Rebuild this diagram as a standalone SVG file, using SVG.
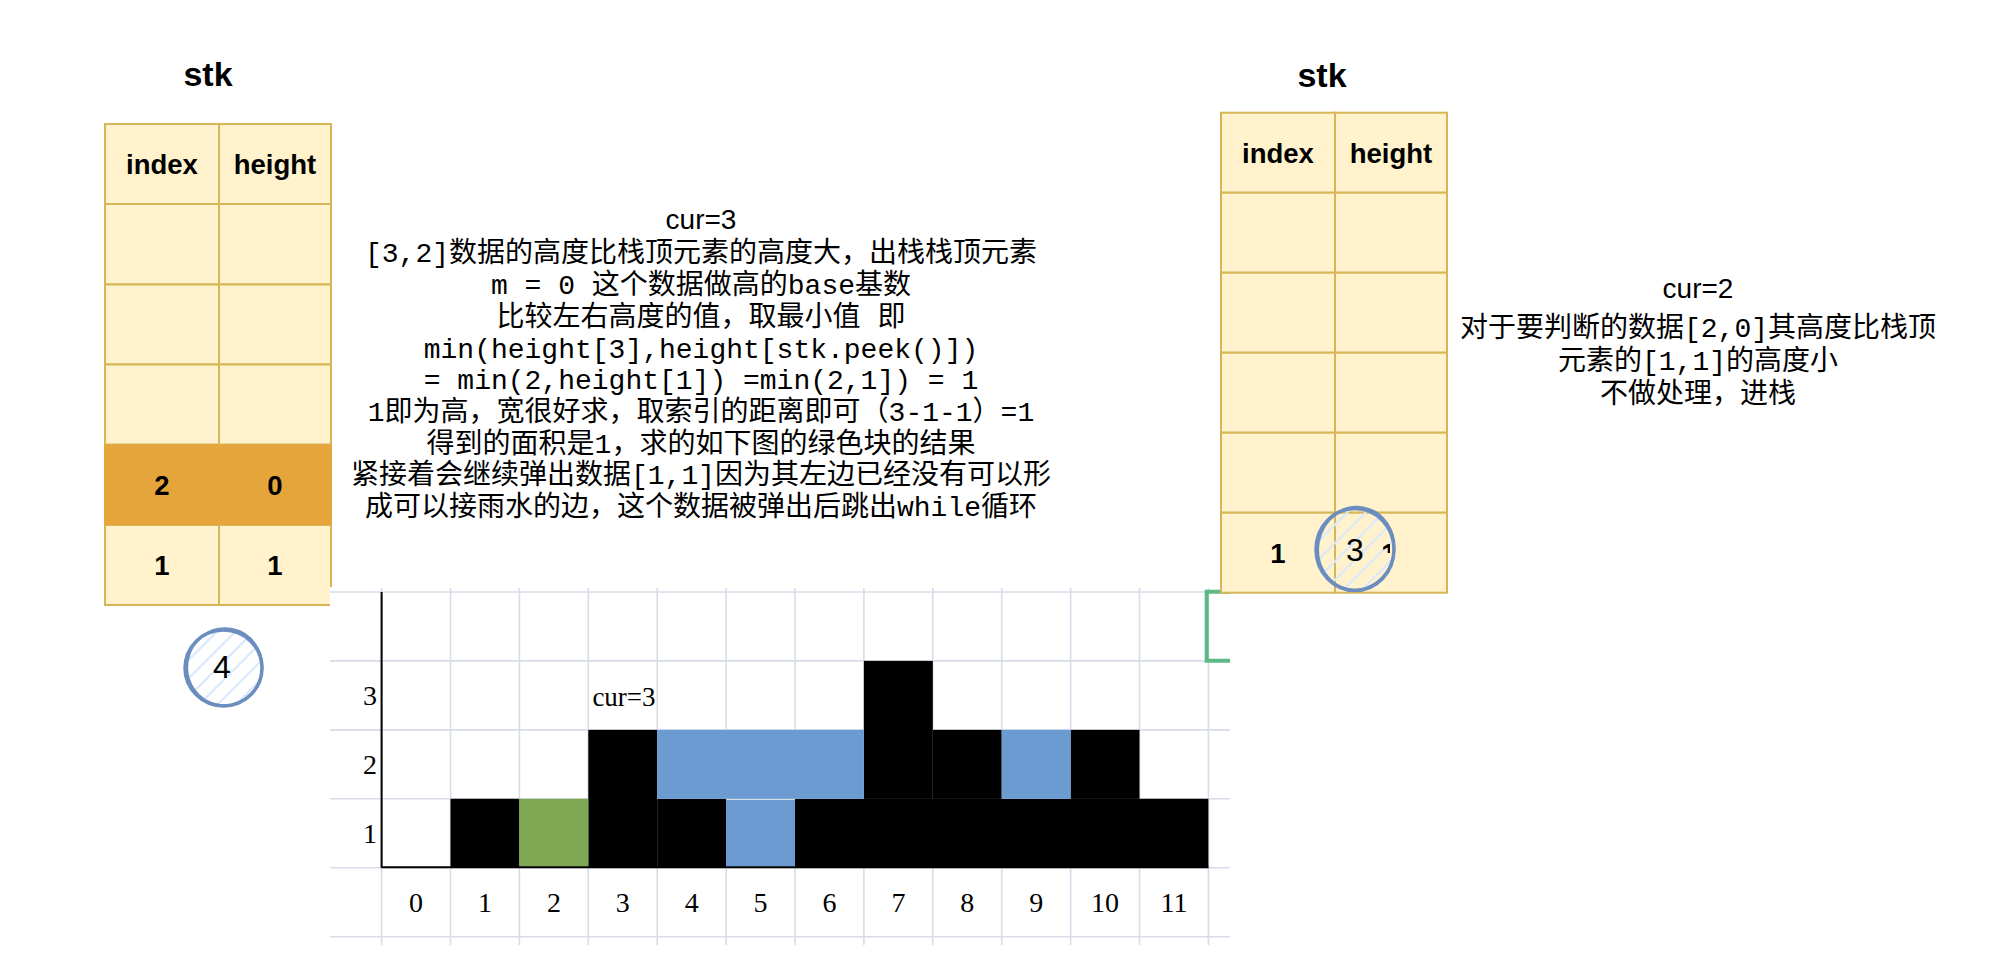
<svg xmlns="http://www.w3.org/2000/svg" width="1996" height="964" viewBox="0 0 1996 964">
<style>
.title{font-family:"Liberation Sans",Arial,sans-serif;font-weight:bold;font-size:34px;fill:#000;text-anchor:middle}
.cell{fill:#fff2cc;stroke:#d6b656;stroke-width:2}
.hdr{font-family:"Liberation Sans",Arial,sans-serif;font-weight:bold;font-size:27.5px;fill:#000;text-anchor:middle}
.note{font-family:"Liberation Mono","Noto Sans CJK SC",monospace;font-size:28px;fill:#000;text-anchor:middle}
.sans{font-family:"Liberation Sans","Noto Sans CJK SC",sans-serif}
.grid{stroke:#d7dce8;stroke-width:1.6;fill:none}
.ax{font-family:"Liberation Serif","Times New Roman",serif;font-size:28px;fill:#000;text-anchor:middle}
.ring{fill:none;stroke:#6c8ebf;stroke-width:3.5}
.ring2{fill:none;stroke:#6c8ebf;stroke-width:2.5}
.ctext{font-family:"Liberation Sans",Arial,sans-serif;font-size:32px;fill:#000;text-anchor:middle}
.blk{fill:#000}
.blue{fill:#6c9bd2}
</style>
<defs>
<pattern id="hatch" width="13" height="13" patternUnits="userSpaceOnUse" patternTransform="rotate(45)">
<line x1="2" y1="0" x2="2" y2="13" stroke="#dae8fc" stroke-width="2.2"/>
</pattern>
<clipPath id="c3clip"><rect x="1383" y="541" width="7" height="12"/></clipPath>
</defs>
<rect width="1996" height="964" fill="#fff"/>

<g id="stk-left"><text class="title" x="208" y="86">stk</text></g>

<g id="table-left">
<rect class="cell" x="105" y="124" width="114" height="80"/>
<rect class="cell" x="219" y="124" width="112" height="80"/>
<rect class="cell" x="105" y="204" width="114" height="80.5"/>
<rect class="cell" x="219" y="204" width="112" height="80.5"/>
<rect class="cell" x="105" y="284.5" width="114" height="80"/>
<rect class="cell" x="219" y="284.5" width="112" height="80"/>
<rect class="cell" x="105" y="364.5" width="114" height="80"/>
<rect class="cell" x="219" y="364.5" width="112" height="80"/>
<rect class="cell" x="105" y="525" width="114" height="80"/>
<rect class="cell" x="219" y="525" width="112" height="80"/>
<rect x="104" y="444.5" width="228" height="80.5" fill="#e5a53b"/>
<text class="hdr" x="162" y="174">index</text>
<text class="hdr" x="275" y="174">height</text>
<text class="hdr" x="162" y="495">2</text>
<text class="hdr" x="275" y="495">0</text>
<text class="hdr" x="162" y="575">1</text>
<text class="hdr" x="275" y="575">1</text>
</g>

<g id="chart">
<rect x="330" y="587" width="900" height="358" fill="#fff"/>
<g class="grid">
<line x1="330" y1="592" x2="1230" y2="592"/>
<line x1="330" y1="660.9" x2="1230" y2="660.9"/>
<line x1="330" y1="729.9" x2="1230" y2="729.9"/>
<line x1="330" y1="798.8" x2="1230" y2="798.8"/>
<line x1="330" y1="867.8" x2="1230" y2="867.8"/>
<line x1="330" y1="936.7" x2="1230" y2="936.7"/>
<line x1="381.6" y1="588" x2="381.6" y2="945"/>
<line x1="450.5" y1="588" x2="450.5" y2="945"/>
<line x1="519.4" y1="588" x2="519.4" y2="945"/>
<line x1="588.3" y1="588" x2="588.3" y2="945"/>
<line x1="657.2" y1="588" x2="657.2" y2="945"/>
<line x1="726.1" y1="588" x2="726.1" y2="945"/>
<line x1="795" y1="588" x2="795" y2="945"/>
<line x1="863.9" y1="588" x2="863.9" y2="945"/>
<line x1="932.8" y1="588" x2="932.8" y2="945"/>
<line x1="1001.7" y1="588" x2="1001.7" y2="945"/>
<line x1="1070.6" y1="588" x2="1070.6" y2="945"/>
<line x1="1139.5" y1="588" x2="1139.5" y2="945"/>
<line x1="1208.4" y1="588" x2="1208.4" y2="945"/>
</g>
<rect class="blk" x="450.5" y="798.8" width="68.9" height="69"/>
<rect class="blk" x="588.3" y="729.9" width="68.9" height="137.9"/>
<rect class="blk" x="657.2" y="798.8" width="68.9" height="69"/>
<rect class="blk" x="795" y="798.8" width="413.4" height="69"/>
<rect class="blk" x="863.9" y="660.9" width="68.9" height="138"/>
<rect class="blk" x="932.8" y="729.9" width="68.9" height="69"/>
<rect class="blk" x="1070.6" y="729.9" width="68.9" height="69"/>
<rect x="519.4" y="798.8" width="68.9" height="68" fill="#7fa854"/>
<rect class="blue" x="657.2" y="729.9" width="206.7" height="68.9"/>
<rect class="blue" x="726.1" y="799.8" width="68.9" height="67"/>
<rect class="blue" x="1001.7" y="729.9" width="68.9" height="68.9"/>
<line x1="381.6" y1="592" x2="381.6" y2="867.8" stroke="#000" stroke-width="2"/>
<line x1="381.6" y1="867.3" x2="1208.4" y2="867.3" stroke="#000" stroke-width="2"/>
<text class="ax" x="370" y="705">3</text>
<text class="ax" x="370" y="774">2</text>
<text class="ax" x="370" y="843">1</text>
<text class="ax" x="624" y="706" style="font-size:27px">cur=3</text>
<text class="ax" x="416" y="912">0</text>
<text class="ax" x="485" y="912">1</text>
<text class="ax" x="554" y="912">2</text>
<text class="ax" x="622.8" y="912">3</text>
<text class="ax" x="691.7" y="912">4</text>
<text class="ax" x="760.6" y="912">5</text>
<text class="ax" x="829.5" y="912">6</text>
<text class="ax" x="898.4" y="912">7</text>
<text class="ax" x="967.3" y="912">8</text>
<text class="ax" x="1036.2" y="912">9</text>
<text class="ax" x="1105" y="912">10</text>
<text class="ax" x="1174" y="912">11</text>
<path d="M1230,591.7 H1206.7 V660.7 H1230" fill="none" stroke="#5cb985" stroke-width="4"/>
</g>

<g id="circle-4">
<ellipse cx="223.5" cy="668" rx="38.5" ry="38" fill="url(#hatch)"/>
<ellipse class="ring" cx="223.5" cy="668" rx="38.5" ry="38"/>
<ellipse class="ring2" cx="224.5" cy="667" rx="37.5" ry="38.5" transform="rotate(10 224.5 667)"/>
<text class="ctext" x="222" y="678">4</text>
</g>

<g id="note-left">
<text class="note" x="701" y="229"><tspan class="sans">cur=3</tspan></text>
<text class="note" x="701" y="262">[3,2]数据的高度比栈顶元素的高度大，出栈栈顶元素</text>
<text class="note" x="701" y="294">m = 0 这个数据做高的base基数</text>
<text class="note" x="701" y="326">比较左右高度的值，取最小值 即</text>
<text class="note" x="701" y="358">min(height[3],height[stk.peek()])</text>
<text class="note" x="701" y="389">= min(2,height[1]) =min(2,1]) = 1</text>
<text class="note" x="701" y="421">1即为高，宽很好求，取索引的距离即可（3-1-1）=1</text>
<text class="note" x="701" y="453">得到的面积是1，求的如下图的绿色块的结果</text>
<text class="note" x="701" y="484">紧接着会继续弹出数据[1,1]因为其左边已经没有可以形</text>
<text class="note" x="701" y="516">成可以接雨水的边，这个数据被弹出后跳出while循环</text>
</g>

<g id="stk-right"><text class="title" x="1322" y="87">stk</text></g>

<g id="table-right">
<rect class="cell" x="1221" y="112.7" width="114" height="80"/>
<rect class="cell" x="1335" y="112.7" width="112" height="80"/>
<rect class="cell" x="1221" y="192.7" width="114" height="80"/>
<rect class="cell" x="1335" y="192.7" width="112" height="80"/>
<rect class="cell" x="1221" y="272.7" width="114" height="80"/>
<rect class="cell" x="1335" y="272.7" width="112" height="80"/>
<rect class="cell" x="1221" y="352.7" width="114" height="80"/>
<rect class="cell" x="1335" y="352.7" width="112" height="80"/>
<rect class="cell" x="1221" y="432.7" width="114" height="80"/>
<rect class="cell" x="1335" y="432.7" width="112" height="80"/>
<rect class="cell" x="1221" y="512.7" width="114" height="80"/>
<rect class="cell" x="1335" y="512.7" width="112" height="80"/>
<text class="hdr" x="1278" y="162.7">index</text>
<text class="hdr" x="1278" y="562.7">1</text>
<text class="hdr" x="1391" y="162.7">height</text>
</g>

<g id="circle-3">
<ellipse cx="1355" cy="549.5" rx="39" ry="41" fill="url(#hatch)"/>
<text class="hdr" x="1389" y="562.7" clip-path="url(#c3clip)">1</text>
<ellipse class="ring" cx="1355" cy="549.5" rx="39" ry="41"/>
<ellipse class="ring2" cx="1356" cy="548.5" rx="38" ry="41.5" transform="rotate(10 1356 548.5)"/>
<text class="ctext" x="1355" y="561">3</text>
</g>

<g id="note-right">
<text class="note" x="1698" y="298"><tspan class="sans">cur=2</tspan></text>
<text class="note" x="1698" y="337">对于要判断的数据[2,0]其高度比栈顶</text>
<text class="note" x="1698" y="370">元素的[1,1]的高度小</text>
<text class="note" x="1698" y="403">不做处理，进栈</text>
</g>

<g id="connectors"></g>
</svg>
